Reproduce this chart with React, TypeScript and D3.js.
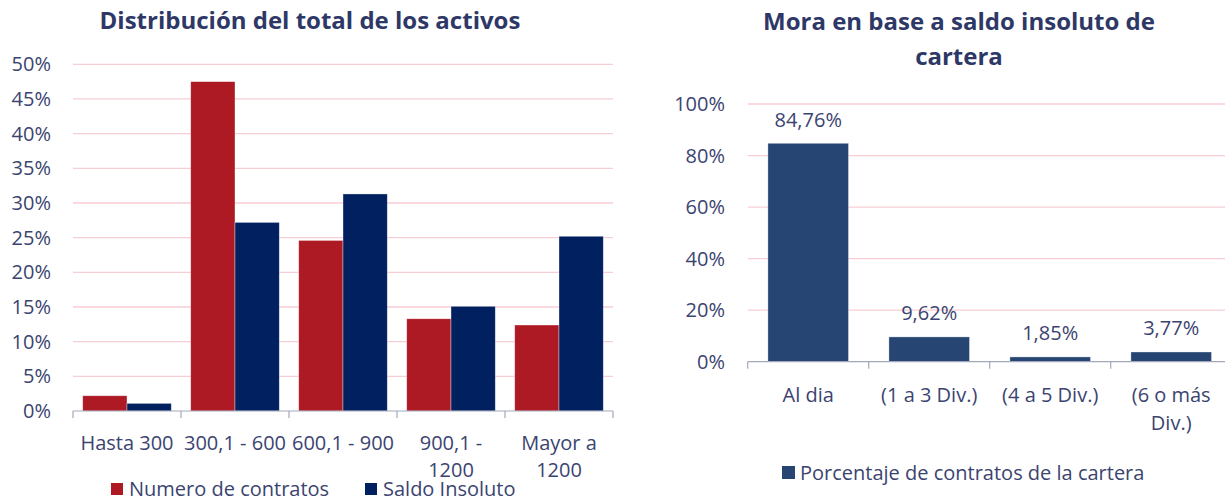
import React from "react";
import * as d3 from "d3";

const leftCategories = ["Hasta 300", "300,1 - 600", "600,1 - 900", "900,1 - 1200", "Mayor a 1200"];
const numeroContratos = [0.022, 0.475, 0.246, 0.133, 0.124];
const saldoInsoluto = [0.011, 0.272, 0.313, 0.151, 0.252];
const leftSeriesNames = ["Numero de contratos", "Saldo Insoluto"];
const leftTicks = [0, 0.05, 0.1, 0.15, 0.2, 0.25, 0.3, 0.35, 0.4, 0.45, 0.5];

const rightCategories = ["Al dia", "(1 a 3 Div.)", "(4 a 5 Div.)", "(6 o más Div.)"];
const porcentajeContratos = [0.8476, 0.0962, 0.0185, 0.0377];
const rightSeriesName = "Porcentaje de contratos de la cartera";
const rightTicks = [0, 0.2, 0.4, 0.6, 0.8, 1.0];

const leftTitle = "Distribución del total de los activos";
const rightTitleLines = ["Mora en base a saldo insoluto de", "cartera"];

const FONT = "'Open Sans', 'Noto Sans', sans-serif";
const TEXT = "#3B4470";
const TITLE = "#2E3866";
const RED = "#AD1A24";
const NAVY = "#002060";
const BLUE = "#264572";
const GRID = "#F8CDD4";
const AXIS = "#A4A8BC";

function measure(text: string, size: number) {
  const svg = document.createElementNS("http://www.w3.org/2000/svg", "svg");
  svg.setAttribute("style", "position:absolute;left:0;top:0;visibility:hidden");
  const el = document.createElementNS("http://www.w3.org/2000/svg", "text");
  el.setAttribute("font-family", FONT);
  el.setAttribute("font-size", String(size));
  el.textContent = text;
  svg.appendChild(el);
  document.body.appendChild(svg);
  const w = el.getComputedTextLength();
  document.body.removeChild(svg);
  return w;
}
function wrap(text: string, maxW: number, size: number) {
  const words = text.split(" ");
  const lines: string[] = [];
  let cur = "";
  for (const w of words) {
    const t = cur ? cur + " " + w : w;
    if (cur && measure(t, size) > maxW) {
      lines.push(cur);
      cur = w;
    } else cur = t;
  }
  if (cur) lines.push(cur);
  return lines;
}

const pctFmt = (v: number) => `${Math.round(v * 100)}%`;
const labelFmt = (v: number) => (v * 100).toFixed(2).replace(".", ",") + "%";

export default function App() {
  const LS = 20; // label size
  const TS = 24; // title size
  // Left chart
  const lx0 = 73, lx1 = 613, ly0 = 411, ly1 = 64.3;
  const xL = d3.scaleBand<string>().domain(leftCategories).range([lx0, lx1]).paddingInner(0.18).paddingOuter(0.09);
  const xLsub = d3.scaleBand<string>().domain(leftSeriesNames).range([0, xL.bandwidth()]);
  const yL = d3.scaleLinear().domain([0, 0.5]).range([ly0, ly1]);
  const leftSeries = [numeroContratos, saldoInsoluto];
  const leftColors = [RED, NAVY];

  // Right chart
  const rx0 = 747.7, rx1 = 1231.7, ry0 = 361.7, ry1 = 104;
  const xR = d3.scaleBand<string>().domain(rightCategories).range([rx0, rx1]).paddingInner(0.334).paddingOuter(0.167);
  const yR = d3.scaleLinear().domain([0, 1]).range([ry0, ry1]);

  return (
    <svg width={1225} height={501} style={{ position: "absolute", left: 0, top: 0, fontFamily: FONT }}>
      <rect width={1225} height={501} fill="#fff" />
      {/* Left title */}
      <text x={310} y={29} textAnchor="middle" fontWeight="bold" fontSize={TS} fill={TITLE}>{leftTitle}</text>
      {/* Left grid */}
      {leftTicks.map((t) => (
        <g key={"lg" + t}>
          {t > 0 && <line x1={lx0} x2={lx1} y1={yL(t)} y2={yL(t)} stroke={GRID} strokeWidth={1.3} />}
          <text x={51} y={yL(t)} dy="0.35em" textAnchor="end" fontSize={LS} fill={TEXT}>{pctFmt(t)}</text>
        </g>
      ))}
      {/* Left bars */}
      {leftCategories.map((c, i) => (
        <g key={"lb" + c} transform={`translate(${xL(c)},0)`}>
          {leftSeries.map((s, j) => (
            <rect key={j} x={xLsub(leftSeriesNames[j])} y={yL(s[i])} width={xLsub.bandwidth()} height={ly0 - yL(s[i])} fill={leftColors[j]} stroke="#ffffff" strokeOpacity={0.5} strokeWidth={0.7} />
          ))}
        </g>
      ))}
      {/* Left axis */}
      <line x1={lx0} x2={lx1} y1={ly0} y2={ly0} stroke={AXIS} strokeWidth={1.2} />
      {d3.range(leftCategories.length + 1).map((i) => {
        const x = lx0 + i * xL.step();
        return <line key={"lt" + i} x1={x} x2={x} y1={ly0} y2={ly0 + 7} stroke={AXIS} strokeWidth={1.2} />;
      })}
      {leftCategories.map((c) => {
        const lines = wrap(c, 110, LS);
        const cx = (xL(c) as number) + xL.bandwidth() / 2;
        return (
          <text key={"lx" + c} x={cx} y={450} textAnchor="middle" fontSize={LS} fill={TEXT}>
            {lines.map((l, k) => (
              <tspan key={k} x={cx} dy={k === 0 ? 0 : 27}>{l}</tspan>
            ))}
          </text>
        );
      })}
      {/* Left legend */}
      <rect x={111} y={483} width={12} height={12} fill={RED} />
      <text x={129} y={496} fontSize={LS} fill={TEXT}>{leftSeriesNames[0]}</text>
      <rect x={365} y={483} width={12} height={12} fill={NAVY} />
      <text x={383} y={496} fontSize={LS} fill={TEXT}>{leftSeriesNames[1]}</text>

      {/* Right title */}
      <text x={959} y={30} textAnchor="middle" fontWeight="bold" fontSize={TS} fill={TITLE}>
        {rightTitleLines.map((l, k) => (
          <tspan key={k} x={959} dy={k === 0 ? 0 : 35}>{l}</tspan>
        ))}
      </text>
      {rightTicks.map((t) => (
        <g key={"rg" + t}>
          {t > 0 && <line x1={rx0} x2={rx1} y1={yR(t)} y2={yR(t)} stroke={GRID} strokeWidth={1.3} />}
          <text x={725} y={yR(t)} dy="0.35em" textAnchor="end" fontSize={LS} fill={TEXT}>{pctFmt(t)}</text>
        </g>
      ))}
      {rightCategories.map((c, i) => {
        const v = porcentajeContratos[i];
        const x = xR(c) as number;
        return (
          <g key={"rb" + c}>
            <rect x={x} y={yR(v)} width={xR.bandwidth()} height={ry0 - yR(v)} fill={BLUE} stroke="#ffffff" strokeOpacity={0.5} strokeWidth={0.7} />
            <text x={x + xR.bandwidth() / 2} y={yR(v) - 16.5} textAnchor="middle" fontSize={LS} fill={TEXT}>{labelFmt(v)}</text>
          </g>
        );
      })}
      <line x1={rx0} x2={rx1} y1={ry0} y2={ry0} stroke={AXIS} strokeWidth={1.2} />
      {d3.range(rightCategories.length + 1).map((i) => {
        const x = rx0 + i * xR.step();
        return <line key={"rt" + i} x1={x} x2={x} y1={ry0} y2={ry0 + 7} stroke={AXIS} strokeWidth={1.2} />;
      })}
      {rightCategories.map((c) => {
        const lines = wrap(c, 112, LS);
        const cx = (xR(c) as number) + xR.bandwidth() / 2;
        return (
          <text key={"rx" + c} x={cx} y={401.5} textAnchor="middle" fontSize={LS} fill={TEXT}>
            {lines.map((l, k) => (
              <tspan key={k} x={cx} dy={k === 0 ? 0 : 28}>{l}</tspan>
            ))}
          </text>
        );
      })}
      <rect x={782} y={466} width={13} height={13} fill={BLUE} />
      <text x={800} y={480} fontSize={LS} fill={TEXT}>{rightSeriesName}</text>
    </svg>
  );
}
